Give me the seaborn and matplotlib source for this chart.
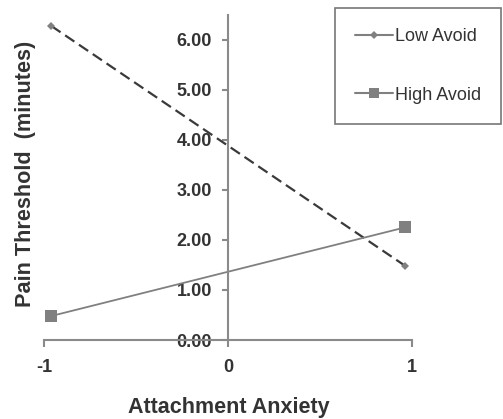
import matplotlib
matplotlib.use("Agg")
import matplotlib.pyplot as plt
from matplotlib.lines import Line2D
import seaborn as sns
import pandas as pd

# Data
x_vals = [-0.96, 0.96]
low_avoid = [6.28, 1.49]
high_avoid = [0.48, 2.25]
series_names = ["Low Avoid", "High Avoid"]
y_ticks = [0, 1, 2, 3, 4, 5, 6]
y_tick_labels = ["0.00", "1.00", "2.00", "3.00", "4.00", "5.00", "6.00"]
x_ticks = [-1, 0, 1]
x_tick_labels = ["-1", "0", "1"]

sns.set_theme(style="white")
plt.rcParams["font.family"] = ["Liberation Sans", "DejaVu Sans"]

df_low = pd.DataFrame({"x": x_vals, "y": low_avoid})
df_high = pd.DataFrame({"x": x_vals, "y": high_avoid})

fig = plt.figure(figsize=(5.03, 4.19), dpi=100)
ax = fig.add_axes([44 / 503, 79 / 419, 368 / 503, 325 / 419])

gray = "#808080"
dark = "#3a3a3a"
axis_col = "#8a8a8a"
text_col = "#333333"

sns.lineplot(data=df_low, x="x", y="y", ax=ax, color=dark, lw=1.6,
             linestyle=(0, (5, 2.5)), marker=None)
sns.lineplot(data=df_low, x="x", y="y", ax=ax, color=gray, lw=0,
             marker="D", markersize=4.5, markeredgewidth=0)
sns.lineplot(data=df_high, x="x", y="y", ax=ax, color=gray, lw=1.3,
             marker="s", markersize=8, markeredgewidth=0)

ax.set_xlim(-1, 1)
ax.set_ylim(0, 6.5)
ax.spines["left"].set_position(("data", 0))
ax.spines["bottom"].set_position(("data", 0))
for s in ["top", "right"]:
    ax.spines[s].set_visible(False)
for s in ["left", "bottom"]:
    ax.spines[s].set_color(axis_col)
    ax.spines[s].set_linewidth(1.5)

ax.set_xticks(x_ticks)
ax.set_xticklabels(x_tick_labels)
ax.set_yticks(y_ticks)
ax.set_yticklabels(y_tick_labels)
ax.tick_params(axis="x", direction="out", length=5, width=1.5, color=axis_col,
               labelsize=13, pad=9, labelcolor=text_col, bottom=True)
ax.tick_params(axis="y", direction="out", length=4.5, width=1.5, color=axis_col,
               labelsize=13, pad=7, labelcolor=text_col, left=True)
for lab in ax.get_xticklabels() + ax.get_yticklabels():
    lab.set_fontweight("bold")

ax.set_xlabel("")
ax.set_ylabel("")
fig.text(229 / 503, 1 - 407 / 419, "Attachment Anxiety", ha="center", va="center",
         fontsize=15.5, fontweight="bold", color=text_col)
fig.text(26 / 503, 1 - 174 / 419, "Pain Threshold  (minutes)", ha="center", va="center",
         rotation=90, fontsize=15.6, fontweight="bold", color=text_col)

handles = [
    Line2D([], [], color=gray, lw=1.5, marker="D", markersize=4.5, markeredgewidth=0),
    Line2D([], [], color=gray, lw=1.5, marker="s", markersize=7, markeredgewidth=0),
]
leg = fig.legend(handles, series_names, loc="upper right",
                 bbox_to_anchor=(501 / 503, 1 - 8 / 419), bbox_transform=fig.transFigure,
                 fontsize=13, frameon=True, fancybox=False, shadow=False,
                 labelspacing=2.3, handlelength=2.1, handletextpad=0.1,
                 borderpad=1.12, borderaxespad=0)
leg.get_frame().set_edgecolor("#555555")
leg.get_frame().set_linewidth(1.2)
for t in leg.get_texts():
    t.set_color(text_col)

fig.savefig("out.png", dpi=100)
